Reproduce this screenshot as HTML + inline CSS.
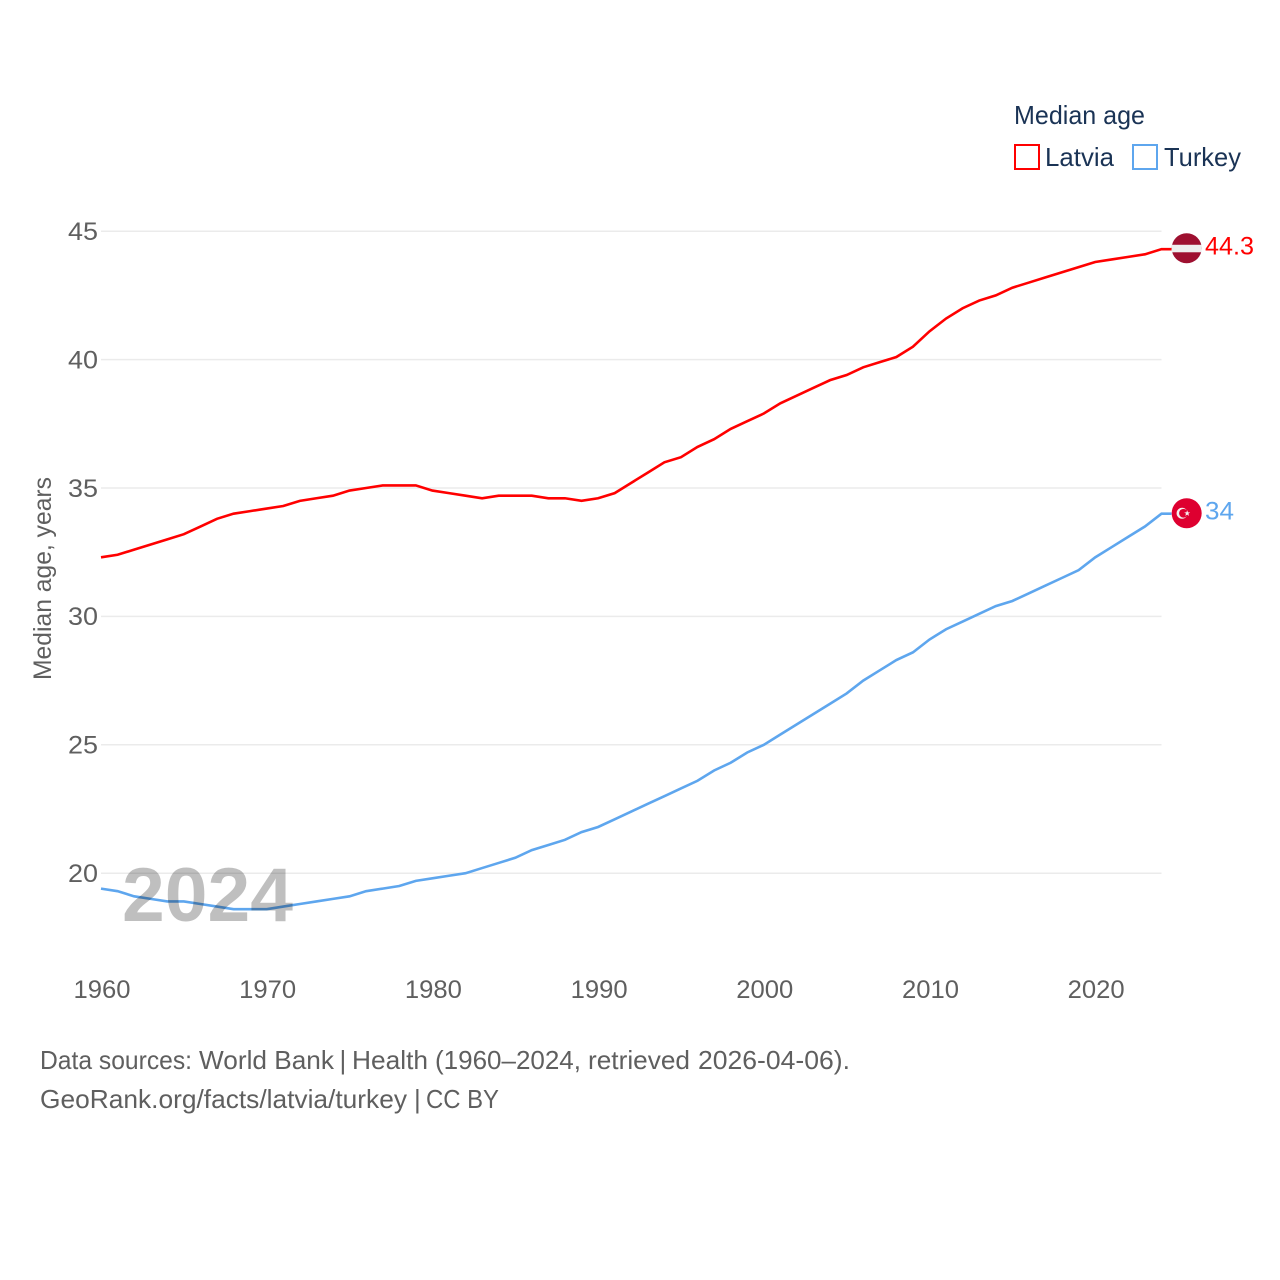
<!DOCTYPE html>
<html>
<head>
<meta charset="utf-8">
<title>Median age: Latvia and Turkey</title>
<style>
html,body{margin:0;padding:0;background:#fff;width:1280px;height:1280px;overflow:hidden}
svg{display:block}
text{font-family:"Liberation Sans",sans-serif}
</style>
</head>
<body>
<svg id="chart" xmlns="http://www.w3.org/2000/svg" width="1280" height="1280" viewBox="0 0 1280 1280">
  <rect x="0" y="0" width="1280" height="1280" fill="#ffffff"/>
  <g id="grid"></g>
  <g id="yticks"></g>
  <g id="xticks"></g>
  <g id="lines"></g>
  <text x="122" y="921" font-size="76" font-weight="bold" fill="#000" fill-opacity="0.25" textLength="171" lengthAdjust="spacingAndGlyphs">2024</text>
  <text transform="translate(51,680) rotate(-90)" font-size="25" fill="#5f5f5f" textLength="203" lengthAdjust="spacingAndGlyphs">Median age, years</text>
  <g id="ends"></g>
  <g>
    <text x="1014" y="124" font-size="26" fill="#1a3355" textLength="131" lengthAdjust="spacingAndGlyphs">Median age</text>
    <g>
      <rect x="1015" y="145" width="24" height="24" fill="none" stroke="#ff0000" stroke-width="2"/>
      <text x="1045" y="166" font-size="26" fill="#1a3355" textLength="69" lengthAdjust="spacingAndGlyphs">Latvia</text>
    </g>
    <g>
      <rect x="1133" y="145" width="24" height="24" fill="none" stroke="#5ea6ee" stroke-width="2"/>
      <text x="1164" y="166" font-size="26" fill="#1a3355" textLength="77" lengthAdjust="spacingAndGlyphs">Turkey</text>
    </g>
  </g>
  <g font-size="26" fill="#5f5f5f">
    <text y="1069"><tspan x="40" textLength="152" lengthAdjust="spacingAndGlyphs">Data sources:</tspan> <tspan x="199" textLength="135" lengthAdjust="spacingAndGlyphs">World Bank</tspan> <tspan x="339.5">|</tspan> <tspan x="352" textLength="76" lengthAdjust="spacingAndGlyphs">Health</tspan> <tspan x="435" textLength="146" lengthAdjust="spacingAndGlyphs">(1960–2024,</tspan> <tspan x="588" textLength="102" lengthAdjust="spacingAndGlyphs">retrieved</tspan> <tspan x="698" textLength="152" lengthAdjust="spacingAndGlyphs">2026-04-06).</tspan></text>
    <text y="1108"><tspan x="40" textLength="367" lengthAdjust="spacingAndGlyphs">GeoRank.org/facts/latvia/turkey</tspan> <tspan x="414">|</tspan> <tspan x="426" textLength="73" lengthAdjust="spacingAndGlyphs">CC BY</tspan></text>
  </g>
</svg>
<script>
var years = [1960,1961,1962,1963,1964,1965,1966,1967,1968,1969,1970,1971,1972,1973,1974,1975,1976,1977,1978,1979,1980,1981,1982,1983,1984,1985,1986,1987,1988,1989,1990,1991,1992,1993,1994,1995,1996,1997,1998,1999,2000,2001,2002,2003,2004,2005,2006,2007,2008,2009,2010,2011,2012,2013,2014,2015,2016,2017,2018,2019,2020,2021,2022,2023,2024];
var latviaValues = [32.3,32.4,32.6,32.8,33.0,33.2,33.5,33.8,34.0,34.1,34.2,34.3,34.5,34.6,34.7,34.9,35.0,35.1,35.1,35.1,34.9,34.8,34.7,34.6,34.7,34.7,34.7,34.6,34.6,34.5,34.6,34.8,35.2,35.6,36.0,36.2,36.6,36.9,37.3,37.6,37.9,38.3,38.6,38.9,39.2,39.4,39.7,39.9,40.1,40.5,41.1,41.6,42.0,42.3,42.5,42.8,43.0,43.2,43.4,43.6,43.8,43.9,44.0,44.1,44.3];
var turkeyValues = [19.4,19.3,19.1,19.0,18.9,18.9,18.8,18.7,18.6,18.6,18.6,18.7,18.8,18.9,19.0,19.1,19.3,19.4,19.5,19.7,19.8,19.9,20.0,20.2,20.4,20.6,20.9,21.1,21.3,21.6,21.8,22.1,22.4,22.7,23.0,23.3,23.6,24.0,24.3,24.7,25.0,25.4,25.8,26.2,26.6,27.0,27.5,27.9,28.3,28.6,29.1,29.5,29.8,30.1,30.4,30.6,30.9,31.2,31.5,31.8,32.3,32.7,33.1,33.5,34.0];
var yTickValues = [20,25,30,35,40,45];
var xTickValues = [1960,1970,1980,1990,2000,2010,2020];

var NS = 'http://www.w3.org/2000/svg';
function xScale(year){ return 101 + (year - 1960) * 16.57; }
function yScale(v){ return 873.2 - (v - 20) * 25.68; }
function make(tag, parent){
  var el = document.createElementNS(NS, tag);
  parent.appendChild(el);
  return el;
}
function pathFor(values){
  var d = '';
  for (var i = 0; i < values.length; i++) {
    d += (i ? 'L' : 'M') + xScale(years[i]).toFixed(2) + ' ' + yScale(values[i]).toFixed(2);
  }
  d += 'L' + (xScale(years[years.length - 1]) + 10).toFixed(2) + ' ' + yScale(values[values.length - 1]).toFixed(2);
  return d;
}

var grid = document.getElementById('grid');
var yticks = document.getElementById('yticks');
var xticks = document.getElementById('xticks');
var lines = document.getElementById('lines');
var ends = document.getElementById('ends');

yTickValues.forEach(function(v){
  var g = make('line', grid);
  
  
  g.setAttribute('x1', xScale(1960));
  g.setAttribute('x2', xScale(2024));
  g.setAttribute('y1', yScale(v));
  g.setAttribute('y2', yScale(v));
  g.setAttribute('stroke', '#ebebeb');
  g.setAttribute('stroke-width', '1.5');
  var t = make('text', yticks);
  
  
  t.setAttribute('x', 68);
  t.setAttribute('y', yScale(v) + 8.8);
  t.setAttribute('font-size', '25');
  t.setAttribute('fill', '#5f5f5f');
  t.setAttribute('textLength', '30');
  t.setAttribute('lengthAdjust', 'spacingAndGlyphs');
  t.textContent = v;
});

xTickValues.forEach(function(v){
  var t = make('text', xticks);
  
  
  t.setAttribute('x', xScale(v) + 1);
  t.setAttribute('y', 998);
  t.setAttribute('text-anchor', 'middle');
  t.setAttribute('font-size', '25');
  t.setAttribute('fill', '#5f5f5f');
  t.setAttribute('textLength', '57');
  t.setAttribute('lengthAdjust', 'spacingAndGlyphs');
  t.textContent = v;
});

var latviaLine = make('path', lines);


latviaLine.setAttribute('d', pathFor(latviaValues));
latviaLine.setAttribute('fill', 'none');
latviaLine.setAttribute('stroke', '#ff0000');
latviaLine.setAttribute('stroke-width', '2.6');

var turkeyLine = make('path', lines);


turkeyLine.setAttribute('d', pathFor(turkeyValues));
turkeyLine.setAttribute('fill', 'none');
turkeyLine.setAttribute('stroke', '#5ea6ee');
turkeyLine.setAttribute('stroke-width', '2.6');

var flagX = xScale(2024) + 25.2;
var lastLatvia = latviaValues[latviaValues.length - 1];
var lastTurkey = turkeyValues[turkeyValues.length - 1];
var ly = yScale(lastLatvia) - 0.9;
var ty = yScale(lastTurkey) - 0.4;

var latviaFlag = make('g', ends);


latviaFlag.setAttribute('transform', 'translate(' + flagX + ',' + ly + ')');
var latviaDisc = make('circle', latviaFlag);


latviaDisc.setAttribute('r', '15');
latviaDisc.setAttribute('fill', '#9e1030');
var latviaStripe = make('rect', latviaFlag);


latviaStripe.setAttribute('x', '-15');
latviaStripe.setAttribute('y', '-3.5');
latviaStripe.setAttribute('width', '30');
latviaStripe.setAttribute('height', '7.5');
latviaStripe.setAttribute('fill', '#eeeeee');

var turkeyFlag = make('g', ends);


turkeyFlag.setAttribute('transform', 'translate(' + flagX + ',' + ty + ')');
var turkeyDisc = make('circle', turkeyFlag);


turkeyDisc.setAttribute('r', '15');
turkeyDisc.setAttribute('fill', '#de0030');
var crescentOuter = make('circle', turkeyFlag);


crescentOuter.setAttribute('cx', '-4.6');
crescentOuter.setAttribute('r', '5.5');
crescentOuter.setAttribute('fill', '#f4f0f0');
var crescentInner = make('circle', turkeyFlag);


crescentInner.setAttribute('cx', '-3.2');
crescentInner.setAttribute('r', '4.4');
crescentInner.setAttribute('fill', '#de0030');
var star = make('polygon', turkeyFlag);


star.setAttribute('points', '0.5,-3 1.3,-0.9 3.5,-0.9 1.7,0.4 2.4,2.6 0.5,1.3 -1.4,2.6 -0.7,0.4 -2.5,-0.9 -0.3,-0.9');
star.setAttribute('fill', '#f4f0f0');

var latviaValueLabel = make('text', ends);


latviaValueLabel.setAttribute('x', '1205');
latviaValueLabel.setAttribute('y', yScale(lastLatvia) + 5.3);
latviaValueLabel.setAttribute('font-size', '25');
latviaValueLabel.setAttribute('fill', '#ff0000');
latviaValueLabel.setAttribute('textLength', '49');
latviaValueLabel.setAttribute('lengthAdjust', 'spacingAndGlyphs');
latviaValueLabel.textContent = String(lastLatvia);

var turkeyValueLabel = make('text', ends);


turkeyValueLabel.setAttribute('x', '1205');
turkeyValueLabel.setAttribute('y', yScale(lastTurkey) + 5.8);
turkeyValueLabel.setAttribute('font-size', '25');
turkeyValueLabel.setAttribute('fill', '#5ea6ee');
turkeyValueLabel.setAttribute('textLength', '29');
turkeyValueLabel.setAttribute('lengthAdjust', 'spacingAndGlyphs');
turkeyValueLabel.textContent = String(lastTurkey);
</script>
</body>
</html>
